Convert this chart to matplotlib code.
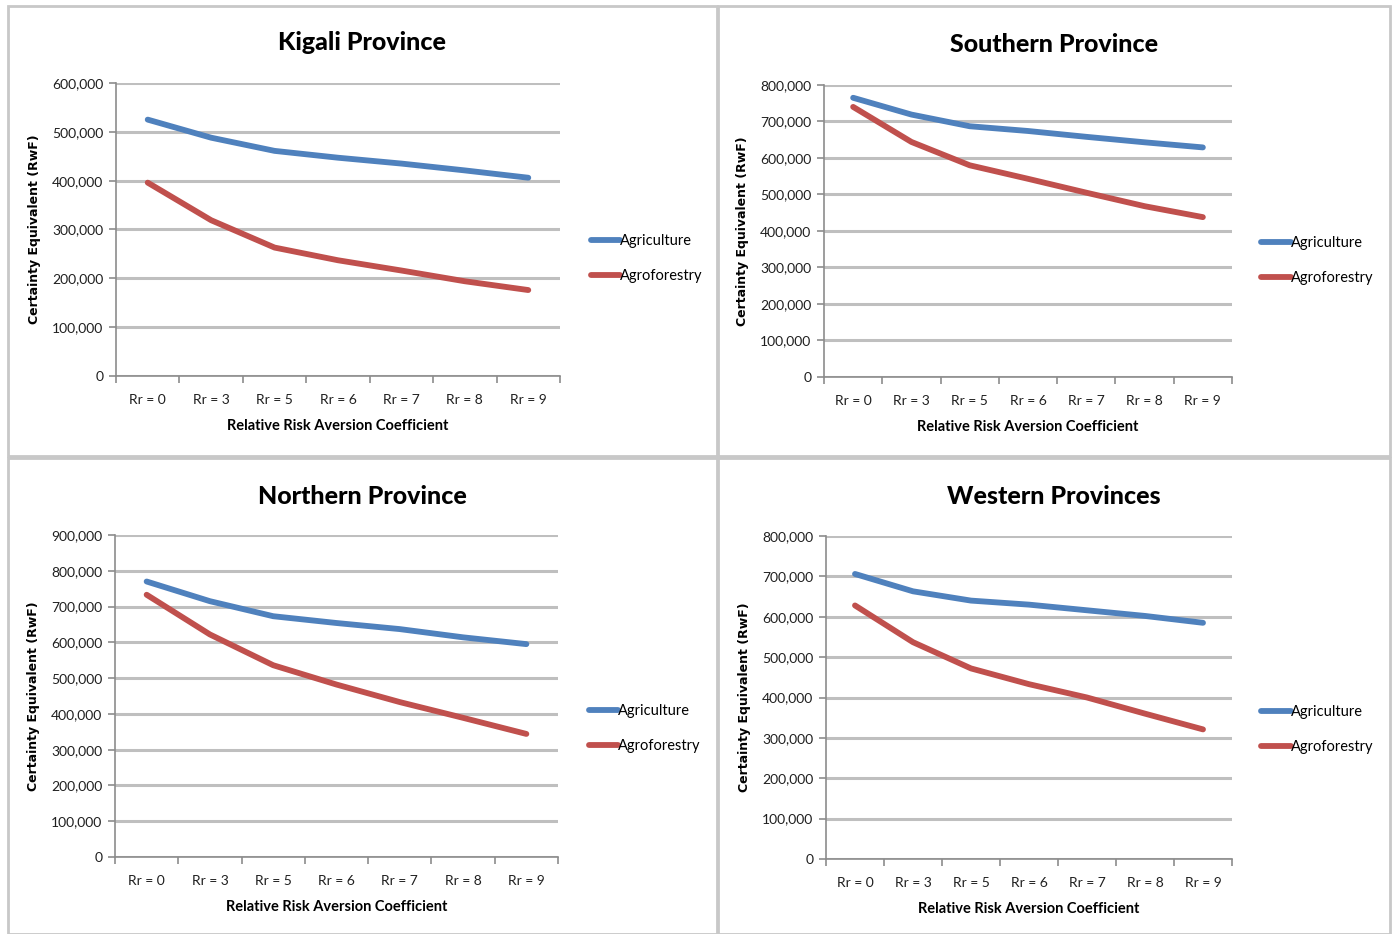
import matplotlib
matplotlib.use("Agg")
import matplotlib.pyplot as plt
from matplotlib.patches import Rectangle
from matplotlib.ticker import FuncFormatter, FixedLocator

plt.rcParams['font.family'] = ['Lato', 'DejaVu Sans']

categories = ['Rr = 0', 'Rr = 3', 'Rr = 5', 'Rr = 6', 'Rr = 7', 'Rr = 8', 'Rr = 9']

kigali_agri = [525000, 488000, 461000, 447000, 435000, 421000, 406000]
kigali_agro = [396000, 319000, 263000, 237000, 216000, 194000, 176000]

southern_agri = [765000, 719000, 687000, 674000, 658000, 643000, 629000]
southern_agro = [740000, 644000, 580000, 543000, 505000, 468000, 438000]

northern_agri = [770000, 715000, 673000, 654000, 637000, 614000, 595000]
northern_agro = [733000, 622000, 536000, 482000, 433000, 389000, 344000]

western_agri = [706000, 663000, 640000, 630000, 616000, 602000, 585000]
western_agro = [628000, 537000, 472000, 433000, 400000, 360000, 321000]

W, H = 1397, 934
BLUE = '#4F81BD'
RED = '#C0504D'
GRID = '#BFBFBF'
AXIS = '#8C8C8C'

fig = plt.figure(figsize=(W / 100, H / 100), dpi=100)

frames = [(8, 6, 717, 456), (718, 6, 1390, 456), (8, 458, 717, 934), (718, 458, 1390, 934)]

# chart frames
for x0, y0, x1, y1 in frames:
    fig.patches.append(Rectangle((x0 / W, 1 - y1 / H), (x1 - x0) / W, (y1 - y0) / H,
                                 transform=fig.transFigure, fill=False,
                                 edgecolor='#C8C8C8', linewidth=2))


def panel(frame, box, title, title_y, agri, agro, ymax, step):
    left, top, right, bottom = box
    ax = fig.add_axes([left / W, 1 - bottom / H, (right - left) / W, (bottom - top) / H])
    x = range(len(categories))
    ax.plot(x, agri, color=BLUE, lw=4.2, solid_capstyle='round', label='Agriculture')
    ax.plot(x, agro, color=RED, lw=4.2, solid_capstyle='round', label='Agroforestry')
    ax.set_xlim(-0.5, len(categories) - 0.5)
    ax.set_ylim(0, ymax)
    ax.set_yticks(range(0, ymax + 1, step))
    ax.yaxis.set_major_formatter(FuncFormatter(lambda v, p: f'{int(v):,}'))
    ax.set_xticks(list(x))
    ax.set_xticklabels(categories)
    ax.xaxis.set_minor_locator(FixedLocator([i - 0.5 for i in range(len(categories) + 1)]))
    ax.tick_params(axis='x', which='major', length=0, pad=13, labelsize=10, colors='#1F1F1F')
    ax.tick_params(axis='x', which='minor', length=5, width=1.2, color=AXIS)
    ax.tick_params(axis='y', length=5, width=1.2, color=AXIS, labelsize=10, pad=4,
                   labelcolor='#1F1F1F')
    ax.grid(axis='y', color=GRID, lw=2.2)
    ax.set_axisbelow(True)
    for s in ['top', 'right']:
        ax.spines[s].set_visible(False)
    for s in ['left', 'bottom']:
        ax.spines[s].set_color(AXIS)
        ax.spines[s].set_linewidth(1.2)
    # title is centred on the whole chart frame, not the plot area
    fx = (frame[0] + frame[2]) / 2 / W
    fig.text(fx, 1 - title_y / H, title, ha='center', va='center',
             fontsize=18, fontweight='black')
    ax.set_xlabel('Relative Risk Aversion Coefficient', fontsize=10.5, fontweight='bold', labelpad=9)
    ax.set_ylabel('Certainty Equivalent (RwF)', fontsize=9, fontweight='bold',
                  family=['DejaVu Sans'], labelpad=8)
    ax.legend(loc='center left', bbox_to_anchor=(1.04, 0.40), frameon=False,
              handlelength=2.0, handletextpad=0.0, labelspacing=1.45, fontsize=10.5)
    return ax


panel(frames[0], (116, 83, 560, 376), 'Kigali Province', 43,
      kigali_agri, kigali_agro, 600000, 100000)
panel(frames[1], (824, 85, 1232, 377), 'Southern Province', 45,
      southern_agri, southern_agro, 800000, 100000)
panel(frames[2], (115, 535, 558, 857), 'Northern Province', 496,
      northern_agri, northern_agro, 900000, 100000)
panel(frames[3], (826, 536, 1232, 859), 'Western Provinces', 496,
      western_agri, western_agro, 800000, 100000)

fig.savefig('out.png', dpi=100)
